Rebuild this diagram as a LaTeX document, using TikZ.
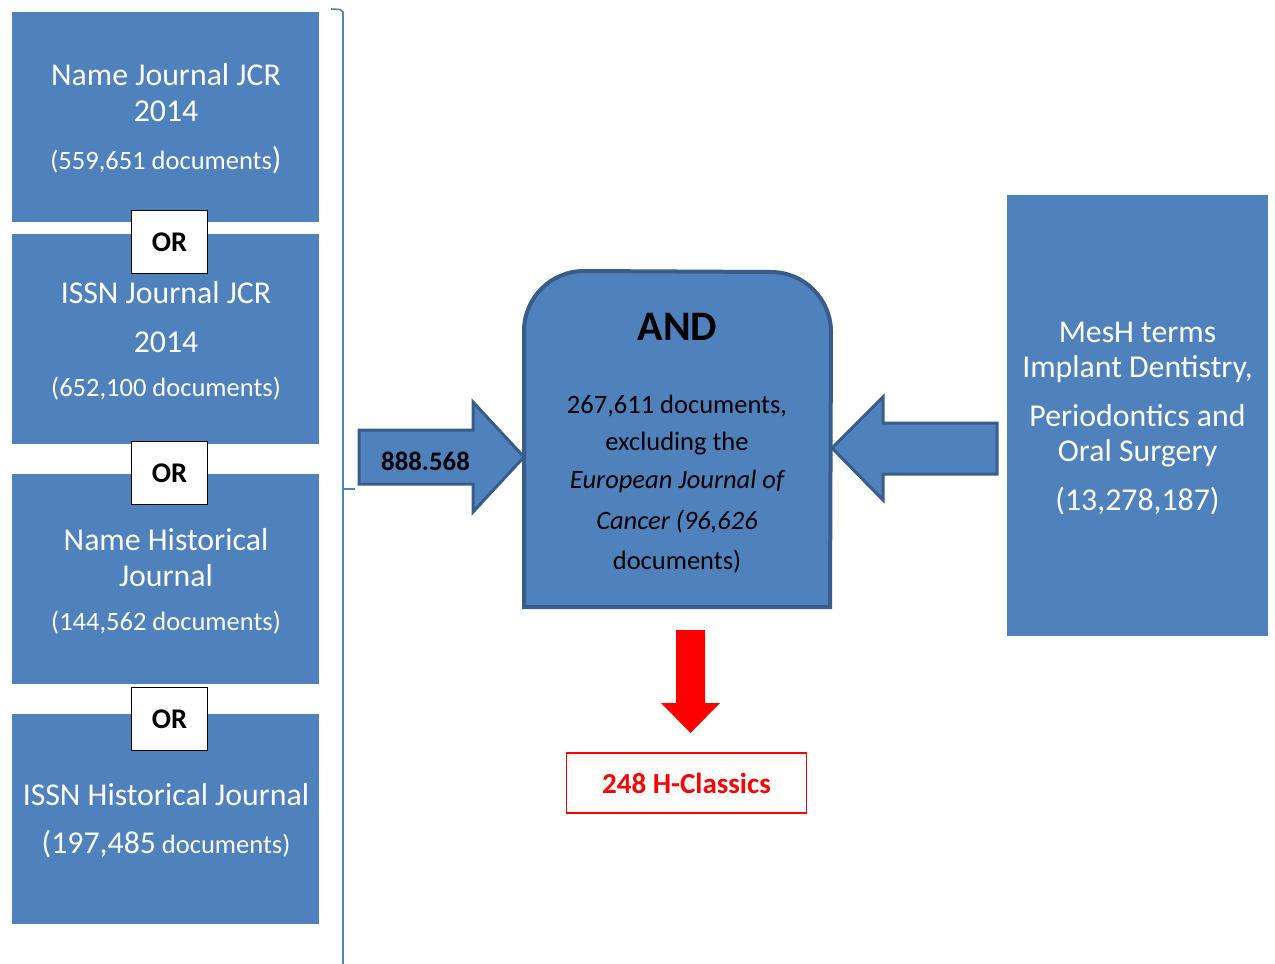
\documentclass[tikz,border=0pt]{standalone}
\usepackage{fontspec}
\setmainfont{Carlito}
\definecolor{boxblue}{HTML}{4F81BD}
\definecolor{edgeblue}{HTML}{385D8A}
\definecolor{hred}{HTML}{FF0000}
\newcommand{\fsz}[1]{\fontsize{#1}{#1}\selectfont}
\begin{document}
\begin{tikzpicture}[x=1pt,y=-1pt,
  bluebox/.style={fill=boxblue,draw=none},
  wtxt/.style={text=white,inner sep=0pt,anchor=base,font=\fsz{31.8}},
  wsmall/.style={text=white,inner sep=0pt,anchor=base,font=\fsz{26.5}},
  orbox/.style={draw=black,line width=1.6pt,fill=white,minimum width=76pt,minimum height=63pt,inner sep=0pt,font=\fsz{28.5}\bfseries},
  btxt/.style={text=black,inner sep=0pt,anchor=base,font=\fsz{26.5}},
  fatarrow/.style={fill=boxblue,draw=edgeblue,line width=3pt,line join=miter}
]
\useasboundingbox (0,0) rectangle (1275,964);

% left boxes
\fill[bluebox] (12,12) rectangle (319,222);
\fill[bluebox] (12,234) rectangle (319,444);
\fill[bluebox] (12,474) rectangle (319,684);
\fill[bluebox] (12,714) rectangle (319,924);

\node[wtxt] (b1a) at (166,85) {Name Journal JCR};
\node[wtxt] (b1b) at (166,121) {2014};
\node[wsmall] (b1c) at (166,169) {(559,651 documents{\fsz{31.8})}};

\node[wtxt] (b2a) at (166,303) {ISSN Journal JCR};
\node[wtxt] (b2b) at (166,352) {2014};
\node[wsmall] (b2c) at (166,396) {(652,100 documents)};

\node[wtxt] (b3a) at (166,550) {Name Historical};
\node[wtxt] (b3b) at (166,586) {Journal};
\node[wsmall] (b3c) at (166,630) {(144,562 documents)};

\node[wtxt] (b4a) at (166,805) {ISSN Historical Journal};
\node[wsmall] (b4b) at (166,853) {{\fsz{31.8}(197,485} documents)};

% OR boxes
\node[orbox] (or1) at (169.5,242) {OR};
\node[orbox] (or2) at (169.5,473) {OR};
\node[orbox] (or3) at (169.5,719) {OR};

% brace
\draw[boxblue,line width=1.6pt] (331,9) -- (340,9.5) -- (343,12) -- (343,964);
\draw[boxblue,line width=1.2pt] (343,489) -- (355,489);

% right arrow 888.568
\draw[fatarrow] (359,430) -- (473,430) -- (473,402) -- (524,457) -- (473,512) -- (473,484) -- (359,484) -- cycle;
\node[inner sep=0pt,anchor=base,font=\fsz{26.8}\bfseries] (num) at (425.5,470) {888.568};

% AND box
\draw[fill=boxblue,draw=edgeblue,line width=4pt] (524,607) -- (524,331)
  arc[start angle=180,end angle=270,radius=60] -- (771,272)
  arc[start angle=270,end angle=360,radius=60] -- (830,607) -- cycle;
\node[inner sep=0pt,anchor=base,font=\fsz{42}\bfseries] (and) at (677.5,340) {AND};
\node[btxt] (a1) at (677,413) {267,611 documents,};
\node[btxt] (a2) at (677,450) {excluding the};
\node[btxt,font=\fsz{26.5}\itshape] (a3) at (677,488) {European Journal of};
\node[btxt,font=\fsz{26.5}\itshape] (a4) at (677,529) {Cancer (96,626};
\node[btxt] (a5) at (677,569) {documents)};

% left arrow
\draw[fatarrow] (997,423) -- (883,423) -- (883,397) -- (832,448) -- (883,500) -- (883,474) -- (997,474) -- cycle;

% MesH box
\fill[bluebox] (1007,195) rectangle (1268,636);
\node[wtxt] (m1) at (1137.5,342) {MesH terms};
\node[wtxt] (m2) at (1137.5,377) {Implant Dentistry,};
\node[wtxt] (m3) at (1137.5,426) {Periodontics and};
\node[wtxt] (m4) at (1137.5,461) {Oral Surgery};
\node[wtxt] (m5) at (1137.5,510) {(13,278,187)};

% red arrow
\fill[hred] (676,630) -- (705,630) -- (705,703) -- (720,703) -- (690.5,733) -- (661,703) -- (676,703) -- cycle;

% result box
\node[draw=hred,line width=1.5pt,minimum width=240pt,minimum height=60pt,inner sep=0pt,text=hred,font=\fsz{29}\bfseries] (res) at (686.5,783) {248 H-Classics};
\end{tikzpicture}
\end{document}
